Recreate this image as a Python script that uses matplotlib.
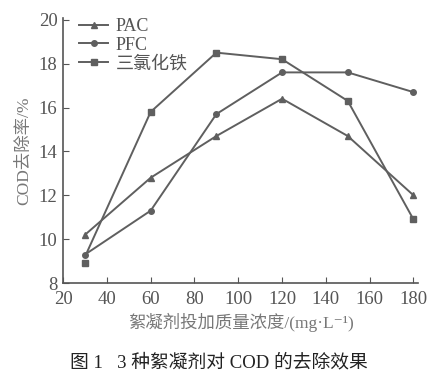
import matplotlib.pyplot as plt

plt.rcParams['font.family'] = ['Liberation Serif', 'Noto Sans CJK SC', 'DejaVu Serif']

# 数据
dose = [30, 60, 90, 120, 150, 180]
pac = [10.2, 12.8, 14.7, 16.4, 14.7, 12.0]
pfc = [9.3, 11.3, 15.7, 17.6, 17.6, 16.7]
fecl3 = [8.9, 15.8, 18.5, 18.2, 16.3, 10.9]
fecl3_line = [9.2, 15.8, 18.5, 18.2, 16.3, 10.9]

c = '#5f5f5f'
fig = plt.figure(figsize=(4.38, 3.81), dpi=100)
ax = fig.add_axes([0.144, 0.257, 0.81, 0.697])

ax.plot(dose, pac, color=c, lw=1.4, marker='^', ms=5, label='PAC')
ax.plot(dose, pfc, color=c, lw=1.4, marker='o', ms=4, label='PFC')
ax.plot(dose, fecl3_line, color=c, lw=1.4)
ax.plot(dose, fecl3, color=c, lw=0, marker='s', ms=5)
ax.plot([], [], color=c, lw=1.4, marker='s', ms=5, label='三氯化铁')

ax.set_xlim(20, 182)
ax.set_ylim(8, 20.1)
ax.set_xticks(range(20, 181, 20))
ax.set_yticks(range(8, 21, 2))
for s in ['top', 'right']:
    ax.spines[s].set_visible(False)
for s in ['left', 'bottom']:
    ax.spines[s].set_color('#555555')
    ax.spines[s].set_linewidth(1.2)
ax.tick_params(direction='in', length=4, color='#555555', labelsize=13.5,
               labelcolor='#555555')
ax.tick_params(axis='x', pad=6)
ax.tick_params(axis='y', pad=4)

ax.set_xlabel('絮凝剂投加质量浓度/(mg·L⁻¹)', fontsize=12.5, color='#777777', labelpad=3)
ax.set_ylabel('COD去除率/%', fontsize=12.5, color='#777777', labelpad=5)

leg = ax.legend(loc='upper left', bbox_to_anchor=(0.0, 1.06), frameon=False,
                fontsize=13, handlelength=1.6, labelspacing=0.1, handletextpad=0.4,
                labelcolor='#555555')

fig.text(0.5, 0.035, '图 1   3 种絮凝剂对 COD 的去除效果', ha='center', fontsize=13.5,
         color='#222222')

fig.savefig('out.png', dpi=100)
